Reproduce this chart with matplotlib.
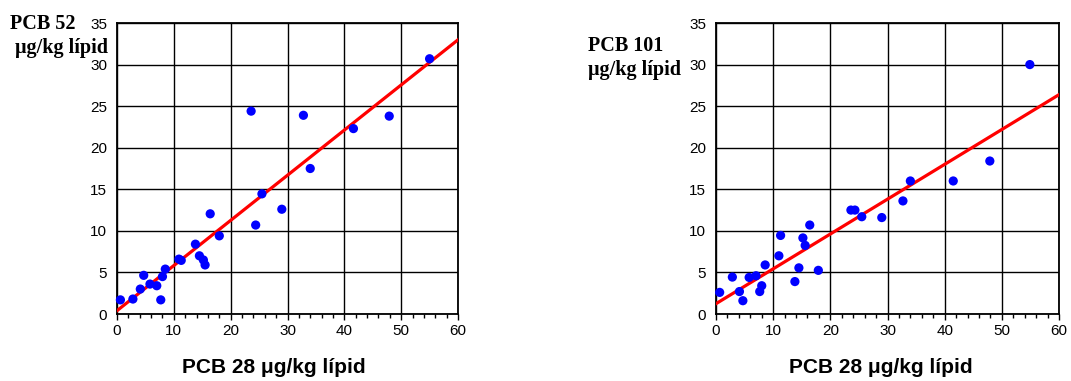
import numpy as np
import matplotlib
matplotlib.use("Agg")
import matplotlib.pyplot as plt
from matplotlib.ticker import MultipleLocator

# PCB 28 (shared x) and the two y series, ug/kg lipid
pcb28 = [0.6, 2.8, 4.1, 4.7, 5.8, 7.0, 7.7, 8.0, 8.5, 10.9, 11.3, 13.8, 14.5,
         15.2, 15.5, 16.4, 18.0, 23.6, 24.4, 25.5, 29.0, 32.8, 34.0, 41.6, 47.9, 55.0]
pcb52 = [1.7, 1.8, 3.0, 4.65, 3.6, 3.4, 1.7, 4.5, 5.4, 6.6, 6.45, 8.4, 7.0,
         6.5, 5.9, 12.05, 9.4, 24.4, 10.7, 14.45, 12.6, 23.9, 17.5, 22.3, 23.8, 30.7]
# right panel, same order of samples along x
pcb28_b = [0.64, 2.86, 4.1, 4.7, 5.8, 7.0, 7.65, 8.0, 8.6, 11.0, 11.3, 13.8, 14.5,
           15.2, 15.6, 16.4, 17.9, 23.6, 24.3, 25.5, 29.0, 32.7, 34.0, 41.5, 47.9, 54.9]
pcb101 = [2.6, 4.44, 2.7, 1.6, 4.4, 4.6, 2.7, 3.4, 5.9, 7.0, 9.45, 3.9, 5.55,
          9.15, 8.25, 10.7, 5.25, 12.5, 12.5, 11.7, 11.6, 13.6, 16.0, 16.0, 18.4, 30.0]

# regression lines (intercept, slope)
fit52 = (0.4, 0.543)
fit101 = (1.24, 0.419)

W, H = 1071, 381
fig = plt.figure(figsize=(W / 100, H / 100), dpi=100)

sans = "Liberation Sans"
serif = "Liberation Serif"


def panel(left_px, right_px, x, y, fit):
    ax = fig.add_axes([left_px / W, (H - 314) / H, (right_px - left_px) / W, 291 / H])
    ax.set_xlim(0, 60)
    ax.set_ylim(0, 35)
    ax.xaxis.set_major_locator(MultipleLocator(10))
    ax.xaxis.set_minor_locator(MultipleLocator(2))
    ax.yaxis.set_major_locator(MultipleLocator(5))
    ax.grid(True, which="major", color="black", lw=1.0)
    ax.set_axisbelow(True)
    for s in ax.spines.values():
        s.set_color("black")
        s.set_linewidth(1.3)
    ax.tick_params(axis="x", which="major", length=4, width=1, pad=3, labelsize=11)
    ax.tick_params(axis="x", which="minor", length=3, width=1)
    ax.tick_params(axis="y", length=0, pad=7, labelsize=11)
    for lab in ax.get_xticklabels() + ax.get_yticklabels():
        lab.set_fontfamily(sans)
    xs = np.array([0, 60])
    ax.plot(xs, fit[0] + fit[1] * xs, color="#ff0000", lw=2.3, zorder=3, clip_on=True)
    ax.scatter(x, y, s=44, color="#0000ff", edgecolors="none", zorder=4, clip_on=False)
    return ax


panel(117, 458, pcb28, pcb52, fit52)
panel(716, 1059, pcb28_b, pcb101, fit101)

# axis titles
fig.text(274 / W, 1 - 373 / H, "PCB 28 μg/kg lípid", ha="center", va="baseline",
         fontsize=15, fontweight="bold", family=sans)
fig.text(881 / W, 1 - 373 / H, "PCB 28 μg/kg lípid", ha="center", va="baseline",
         fontsize=15, fontweight="bold", family=sans)

fig.text(10 / W, 1 - 29 / H, "PCB 52", ha="left", va="baseline",
         fontsize=14.5, fontweight="bold", family=serif)
fig.text(15 / W, 1 - 53 / H, "μg/kg lípid", ha="left", va="baseline",
         fontsize=14.5, fontweight="bold", family=serif)
fig.text(588 / W, 1 - 51 / H, "PCB 101", ha="left", va="baseline",
         fontsize=14.5, fontweight="bold", family=serif)
fig.text(588 / W, 1 - 75 / H, "μg/kg lípid", ha="left", va="baseline",
         fontsize=14.5, fontweight="bold", family=serif)

fig.savefig("out.png", dpi=100, facecolor="white")
